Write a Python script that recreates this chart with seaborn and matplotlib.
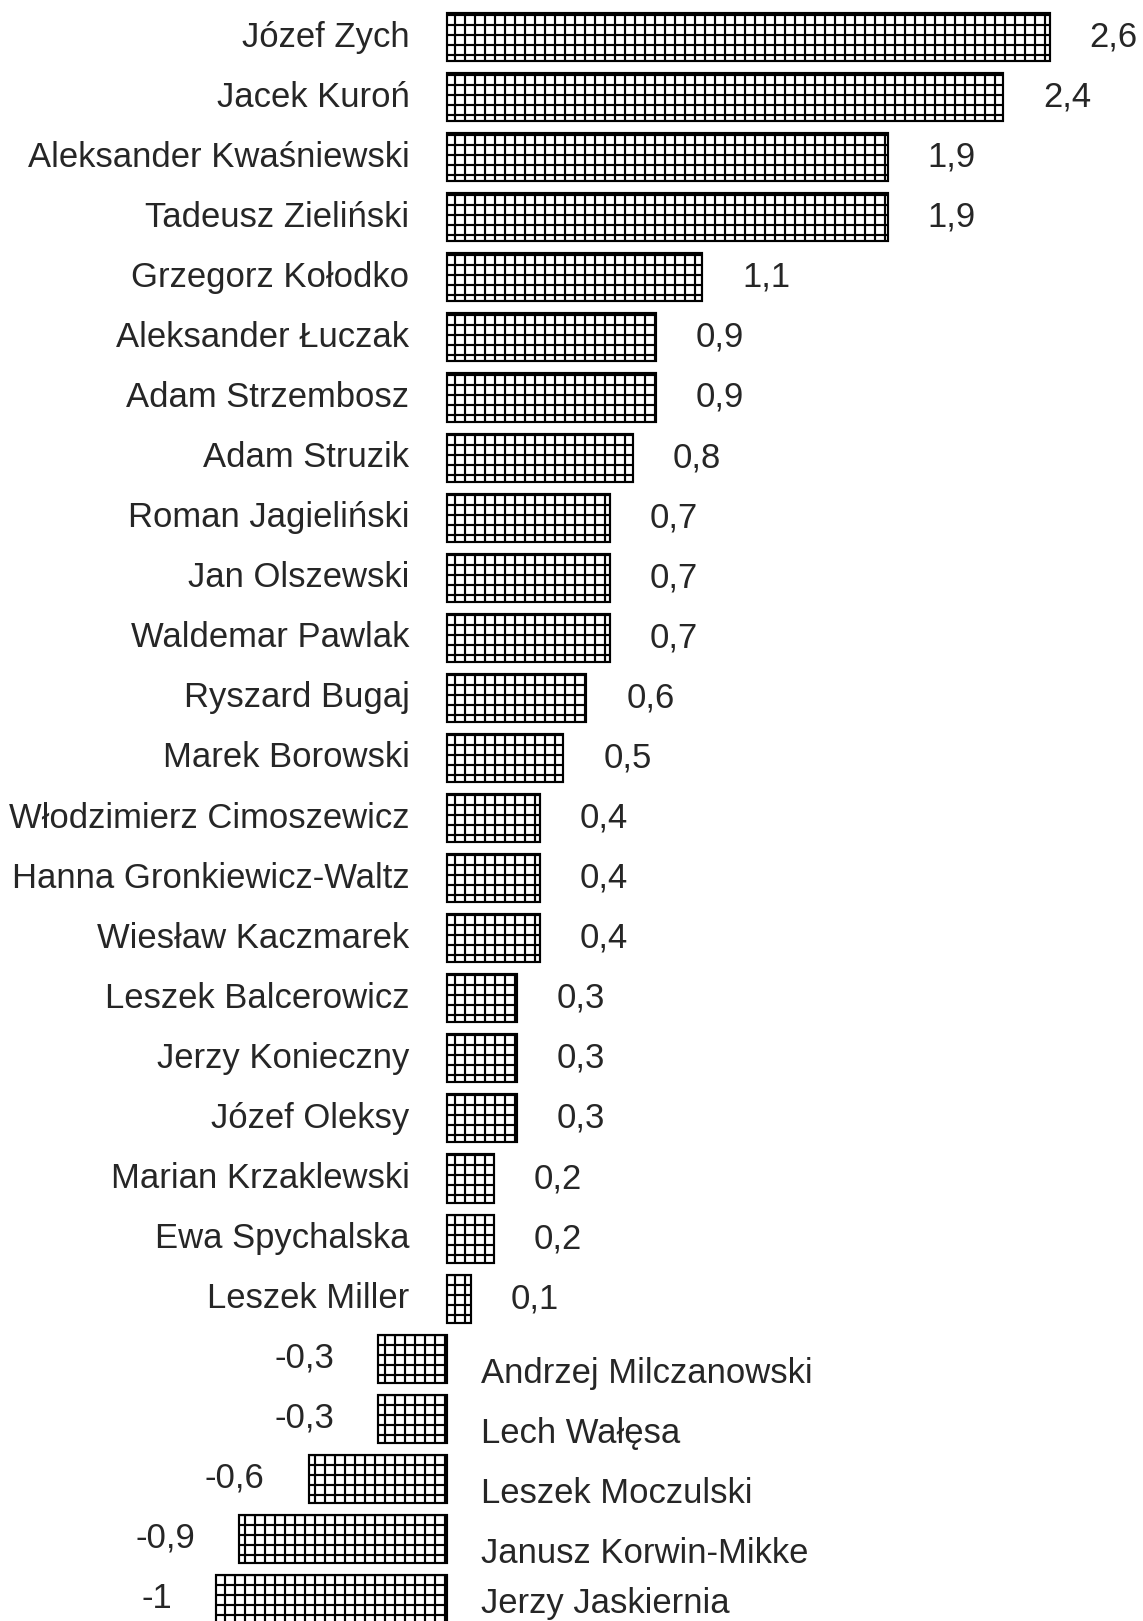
import numpy as np
import pandas as pd
import matplotlib
matplotlib.use("Agg")
import matplotlib.pyplot as plt
import seaborn as sns

# dane
nazwiska = [
    "Józef Zych", "Jacek Kuroń", "Aleksander Kwaśniewski", "Tadeusz Zieliński",
    "Grzegorz Kołodko", "Aleksander Łuczak", "Adam Strzembosz", "Adam Struzik",
    "Roman Jagieliński", "Jan Olszewski", "Waldemar Pawlak", "Ryszard Bugaj",
    "Marek Borowski", "Włodzimierz Cimoszewicz", "Hanna Gronkiewicz-Waltz",
    "Wiesław Kaczmarek", "Leszek Balcerowicz", "Jerzy Konieczny", "Józef Oleksy",
    "Marian Krzaklewski", "Ewa Spychalska", "Leszek Miller",
    "Andrzej Milczanowski", "Lech Wałęsa", "Leszek Moczulski",
    "Janusz Korwin-Mikke", "Jerzy Jaskiernia",
]
wartosci = [2.6, 2.4, 1.9, 1.9, 1.1, 0.9, 0.9, 0.8, 0.7, 0.7, 0.7, 0.6, 0.5,
            0.4, 0.4, 0.4, 0.3, 0.3, 0.3, 0.2, 0.2, 0.1,
            -0.3, -0.3, -0.6, -0.9, -1.0]

df = pd.DataFrame({"nazwisko": nazwiska, "wartosc": wartosci})

sns.set_style("white")
plt.rcParams["font.family"] = ["Liberation Sans", "DejaVu Sans"]
plt.rcParams["hatch.linewidth"] = 1.3

dpi = 120
fig = plt.figure(figsize=(1143 / dpi, 1621 / dpi), dpi=dpi)
ax = fig.add_axes([0, 0, 1, 1])

sns.barplot(data=df, x="wartosc", y="nazwisko", orient="h", color="white",
            edgecolor="black", linewidth=1.3, hatch="++", width=0.8, ax=ax)

ax.set_xlim(-1.932, 3.003)
ax.set_ylim(26.365, -0.616)
ax.axis("off")

fs = 20.8
def fmt(v):
    return f"{v:g}".replace(".", ",")

for i, (n, v) in enumerate(zip(nazwiska, wartosci)):
    if v >= 0:
        ax.annotate(n, xy=(0, i), xytext=(-38, 0), textcoords="offset pixels",
                    ha="right", va="center", fontsize=fs)
        ax.annotate(fmt(v), xy=(v, i), xytext=(40, 0), textcoords="offset pixels",
                    ha="left", va="center", fontsize=fs)
    else:
        dy = -15 if i < len(nazwiska) - 1 else -4
        ax.annotate(n, xy=(0, i), xytext=(34, dy), textcoords="offset pixels",
                    ha="left", va="center", fontsize=fs)
        ax.annotate(fmt(v), xy=(v, i), xytext=(-44, 1), textcoords="offset pixels",
                    ha="right", va="center", fontsize=fs)

fig.savefig("out.png", dpi=dpi)
